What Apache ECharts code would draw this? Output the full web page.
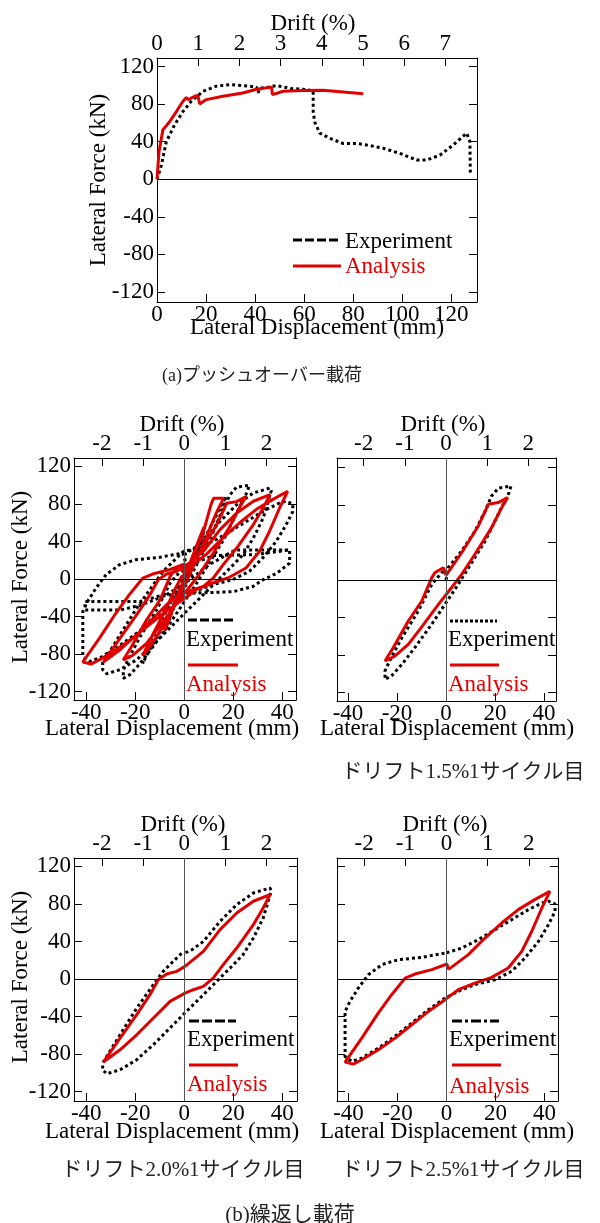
<!DOCTYPE html>
<html>
<head>
<meta charset="utf-8">
<title>Pushover / cyclic loading</title>
<script src="https://cdn.jsdelivr.net/npm/echarts@6/dist/echarts.min.js"></script>
<style>
html, body { margin: 0; padding: 0; background: #fff; }
#charts { width: 600px; height: 1223px; }
</style>
</head>
<body>
<div id="charts"></div>
<script>
// ---- values: [displacement (mm), force (kN)] ----

// (a) pushover
var pushExp = [[0,0],[1.8,15],[3.8,40],[7.2,58],[10.6,72],[14,83],[18.8,93.6],[24.2,99],[29.7,100.7],[37.8,99],[40.5,98],[41.2,92],[42,97],[44.6,97.5],[48.7,99.7],[54.4,96.6],[59.6,95.7],[63.7,94],[63.7,72],[64.3,61],[66.4,49],[70.5,43.6],[75.9,38],[81.4,38],[85.5,36.4],[92.2,33],[99,27.5],[105.9,20.4],[110,20.4],[115.4,25.7],[120.8,36.4],[126.3,49],[127.6,40],[127.8,4]];
var pushAna = [[0,0],[0.8,29],[2.4,52.5],[5.2,61.4],[7.9,72],[10.6,83],[12,87],[12.7,84.7],[15.4,88.2],[16.7,89],[17.4,80],[20.1,84.7],[26.9,88.2],[35,91.8],[40.6,95.7],[46.7,98],[47.1,90],[51.4,93.6],[59.6,94.3],[67.8,94.6],[75.9,92.9],[84.1,91]];

// (b) cyclic, small cycles (only seen in the full history)
var exp05 = [[0,0],[2,10],[5,30],[8,50],[6,38],[3,15],[0,-5],[-3,-22],[-6,-42],[-8,-55],[-6,-40],[-3,-20],[0,-2]];
var ana05 = [[0,0],[2,15],[5,35],[8,55],[6,42],[3,20],[0,0],[-3,-20],[-6,-42],[-8,-55],[-6,-40],[-3,-18],[0,0]];
var exp10 = [[0,5],[4,22],[8,42],[12,62],[15,78],[17,88],[15,70],[11,45],[6,20],[1,-5],[-4,-28],[-9,-52],[-14,-75],[-17,-90],[-15,-75],[-10,-48],[-5,-22],[0,2]];
var ana10 = [[0,3],[4,25],[8,52],[11,80],[12,86],[16,86],[13,70],[9,45],[4,15],[0,-8],[-4,-28],[-9,-52],[-14,-72],[-17,-82],[-13,-60],[-8,-35],[-4,-12],[-1,3],[0,3]];

// drift 1.5% cycle 1
var exp15 = [[0,0],[0.9,13],[6.4,31],[11.8,52],[16,73.6],[18.6,89.6],[21.3,97.8],[26.5,100],[25.7,93],[21.3,70],[16,41.6],[9.2,13],[5,-4.6],[-0.4,-26],[-5.8,-47],[-12.7,-72],[-18,-90],[-22.2,-102],[-24.9,-106],[-24.9,-97],[-22.7,-84.6],[-18,-61.5],[-11.3,-33],[-5.8,-4.6],[-1.8,7.8],[0,10]];
var ana15 = [[0,5],[6.4,29],[13.2,57.6],[17.3,80.7],[21.3,82.5],[25.2,87.8],[22.7,77],[18.6,55.8],[11.8,27.4],[6.4,6],[2.3,-8],[-3.1,-26],[-9.9,-50],[-15.4,-68.6],[-20.8,-81],[-24.9,-86.4],[-21.5,-72],[-15.4,-43.7],[-9.9,-22.4],[-5.8,2.5],[-4.5,7.8],[-1.1,13],[0,5]];

// drift 2.0% cycle 1
var exp20 = [[0.5,28],[3,31],[7.8,40],[14.6,61.5],[21.4,79.3],[28.2,91.7],[35,97],[35.5,94],[32.2,65],[28.2,43.7],[24,26],[18.7,11.7],[13.2,-2.5],[7.8,-16.7],[0.3,-36],[-5.8,-52],[-12.6,-70],[-19.4,-86],[-26.2,-96.7],[-31.7,-101],[-33.3,-96.7],[-33.3,-89.6],[-26.2,-59.4],[-19.4,-31],[-12.6,-6],[-8.6,8.2],[-4.5,18.8],[-0.3,29.5]];
var ana20 = [[0.3,13.5],[7.8,29.5],[14.6,52.6],[21.4,70.4],[28.2,82.9],[35,90],[32.2,75.7],[28.2,58],[21.4,33],[15.9,15.3],[11.8,1],[7.8,-7.8],[3.7,-11.4],[0.3,-15],[-5.8,-23.8],[-12.6,-41.6],[-19.4,-59.4],[-26.2,-75.4],[-33,-88.5],[-26.2,-63],[-19.4,-38],[-14,-16.7],[-10.6,-0.7],[-7.2,5.3],[-3.1,8.2],[0.3,13.5]];

// drift 2.5% cycle 1
var exp25 = [[0,28],[6.2,33],[13,42],[19.8,52.6],[26.6,63.3],[33.4,74],[38.9,81],[41.6,83],[44.3,80],[44.3,72],[41.6,58],[37.5,40],[32,22.4],[26.6,8.2],[19.8,-0.7],[11.6,-6],[6.2,-11.4],[-0.6,-20.3],[-7.4,-32.7],[-14.2,-47],[-21,-61],[-27.8,-73.6],[-34.6,-84.3],[-38.7,-87.8],[-41.4,-82.5],[-41.4,-70],[-41.4,-34.5],[-39.4,-23.8],[-36,-9.6],[-31.9,4.6],[-26.4,15.3],[-19.7,20.6],[-10.1,23.1],[-0.6,27.7]];
var ana25 = [[0.7,10],[8.9,26],[15.7,43.7],[22.5,59.7],[29.3,74],[36,84.6],[42.2,93.5],[38.9,75.7],[34.8,50.9],[30.7,29.5],[25.2,11.7],[18.4,1.8],[11.6,-4.3],[4.8,-11.4],[-0.6,-22],[-7.4,-34.5],[-14.2,-48.7],[-21,-63],[-27.8,-75.4],[-34.6,-86],[-38,-90.7],[-41.4,-88.5],[-34.6,-63],[-27.8,-36],[-22.4,-16.7],[-16.9,1],[-12.9,5.3],[-6,10],[0.2,16],[0.7,10]];

// later, degraded cycle (only seen in the full history)
var expPost = [[1,14],[12,25],[29,26],[43,31],[43,17],[37.7,6],[32,-1],[28,-8],[20,-13.5],[1,-15.3],[-10,-18],[-18,-24],[-30,-24],[-40.5,-24],[-40.5,-33],[-26,-33],[-18,-28],[-8,-18],[0,-5],[10,15],[20.8,31],[43,31]];

// full loading history = all cycles in order
var expAll = [].concat(exp05, exp10, exp15, exp20, exp25, expPost);
var anaAll = [].concat(ana05, ana10, ana15, ana20, ana25);

// tick values
var dispTicksPush = [0, 20, 40, 60, 80, 100, 120];
var dispTicksCyc = [-40, -20, 0, 20, 40];
var driftTicksPush = [0, 1, 2, 3, 4, 5, 6, 7];
var driftTicksCyc = [-2, -1, 0, 1, 2];
var forceTicks = [-120, -80, -40, 0, 40, 80, 120];

// texts
var legendNames = ['Experiment', 'Analysis'];
var captionTexts = ['(a)プッシュオーバー載荷', 'ドリフト1.5%1サイクル目', 'ドリフト2.0%1サイクル目', 'ドリフト2.5%1サイクル目', '(b)繰返し載荷'];

var MM_PER_DRIFT = 16.8;   // mm per 1% drift
var FONT = '"Liberation Serif", "Times New Roman", serif';
var JFONT = '"Liberation Serif", "Noto Sans CJK JP", serif';
var RED = '#e00000';

var Figure = {

	init: function () {
		this.chart = echarts.init(document.getElementById('charts'), null, {renderer: 'canvas'});
		this.render();
	},

	// one panel = grid + 2 x axes (mm / drift) + 2 y axes + 2 series
	addPanel: function (opt, p, i) {
		var black = {show: true, onZero: false, lineStyle: {color: '#000', width: 1}};
		var tick = function (vals) {
			return {show: true, inside: true, length: 8, customValues: vals, lineStyle: {color: '#000', width: 1}};
		};
		var label = function (vals, show, margin) {
			return {show: show, customValues: vals, color: '#000', fontFamily: FONT, fontSize: 23, margin: margin};
		};

		opt.grid.push({left: p.left, top: p.top, width: p.width, height: p.height});

		opt.xAxis.push({
			gridIndex: i, type: 'value', position: 'bottom', min: p.xMin, max: p.xMax,
			axisLine: black, axisTick: tick(p.xTicks), axisLabel: label(p.xTicks, true, 1),
			splitLine: {show: false}
		});
		opt.xAxis.push({
			gridIndex: i, type: 'value', position: 'top',
			min: p.xMin / MM_PER_DRIFT, max: p.xMax / MM_PER_DRIFT,
			axisLine: black, axisTick: tick(p.dTicks), axisLabel: label(p.dTicks, true, 3),
			splitLine: {show: false}
		});
		opt.yAxis.push({
			gridIndex: i, type: 'value', position: 'left', min: p.yMin, max: p.yMax,
			axisLine: black, axisTick: tick(forceTicks), axisLabel: label(forceTicks, p.yLabels, 3),
			splitLine: {show: false}
		});
		opt.yAxis.push({
			gridIndex: i, type: 'value', position: 'right', min: p.yMin, max: p.yMax,
			axisLine: black, axisTick: tick(forceTicks), axisLabel: {show: false},
			splitLine: {show: false}
		});

		var zero = [{yAxis: 0}];
		if (p.vZero) {
			zero.push({xAxis: 0, lineStyle: {color: '#555', width: 1, type: 'solid'}});
		}

		opt.series.push({
			name: legendNames[0], type: 'line', xAxisIndex: 2 * i, yAxisIndex: 2 * i,
			data: p.exp, showSymbol: false, symbol: 'none',
			lineStyle: {color: '#000', width: 3, type: [3, 3]},
			markLine: {
				silent: true, symbol: ['none', 'none'], label: {show: false},
				lineStyle: {color: '#000', width: 1, type: 'solid'},
				data: zero
			}
		});
		opt.series.push({
			name: legendNames[1], type: 'line', xAxisIndex: 2 * i, yAxisIndex: 2 * i,
			data: p.ana, showSymbol: false, symbol: 'none',
			lineStyle: {color: RED, width: 3}
		});

		// axis titles
		opt.graphic.push(this.text('Drift (%)', p.driftTitle[0], p.driftTitle[1], '#000', 23, 'center'));
		opt.graphic.push(this.text('Lateral Displacement (mm)', p.dispTitle[0], p.dispTitle[1], '#000', 23, 'center'));
		if (p.forceTitle) {
			var t = this.text('Lateral Force (kN)', p.forceTitle[0], p.forceTitle[1], '#000', 23, 'center');
			t.rotation = Math.PI / 2;
			opt.graphic.push(t);
		}

		// legend: sample line with the name under / beside it
		var L = p.legend;
		opt.graphic.push({type: 'line', shape: {x1: L.x1, y1: L.y1, x2: L.x2, y2: L.y1},
			style: {stroke: '#000', lineWidth: 3, lineDash: L.dash}});
		opt.graphic.push({type: 'line', shape: {x1: L.x1, y1: L.y2, x2: L.x2 + 2, y2: L.y2},
			style: {stroke: RED, lineWidth: 3}});
		opt.graphic.push(this.text(legendNames[0], L.tx, L.ty1, '#000', 23, 'left'));
		opt.graphic.push(this.text(legendNames[1], L.tx, L.ty2, RED, 23, 'left'));
	},

	text: function (str, x, y, color, size, align, family) {
		return {
			type: 'text', x: x, y: y, silent: true,
			style: {
				text: str, fill: color, font: size + 'px ' + (family || FONT),
				textAlign: align, textVerticalAlign: 'middle'
			}
		};
	},

	render: function () {
		var panels = [
			{left: 157, top: 58, width: 320, height: 244, xMin: 0, xMax: 130.5, yMin: -130.7, yMax: 129,
				xTicks: dispTicksPush, dTicks: driftTicksPush, yLabels: true, vZero: false,
				exp: pushExp, ana: pushAna,
				driftTitle: [313, 24], dispTitle: [317, 328], forceTitle: [99, 180],
				legend: {x1: 293, x2: 339, y1: 240, y2: 266, dash: [9, 3], tx: 345, ty1: 242, ty2: 267}},
			{left: 74, top: 458, width: 222, height: 242, xMin: -45, xMax: 45.6, yMin: -129, yMax: 129,
				xTicks: dispTicksCyc, dTicks: driftTicksCyc, yLabels: true, vZero: true,
				exp: expAll, ana: anaAll,
				driftTitle: [182, 425], dispTitle: [172, 729], forceTitle: [21, 577],
				legend: {x1: 188, x2: 236, y1: 620, y2: 665, dash: [9, 3], tx: 186, ty1: 640, ty2: 685}},
			{left: 337, top: 458, width: 219, height: 243, xMin: -44.5, xMax: 44.9, yMin: -129, yMax: 130,
				xTicks: dispTicksCyc, dTicks: driftTicksCyc, yLabels: false, vZero: true,
				exp: exp15, ana: ana15,
				driftTitle: [443, 425], dispTitle: [447, 729], forceTitle: null,
				legend: {x1: 450, x2: 497, y1: 621, y2: 665, dash: [3, 2], tx: 448, ty1: 640, ty2: 685}},
			{left: 74, top: 858, width: 223, height: 243, xMin: -45, xMax: 46, yMin: -130, yMax: 129,
				xTicks: dispTicksCyc, dTicks: driftTicksCyc, yLabels: true, vZero: true,
				exp: exp20, ana: ana20,
				driftTitle: [183, 825], dispTitle: [172, 1132], forceTitle: [21, 977],
				legend: {x1: 189, x2: 236, y1: 1021, y2: 1065, dash: [10, 3], tx: 187, ty1: 1040, ty2: 1085}},
			{left: 337, top: 858, width: 221, height: 243, xMin: -44.7, xMax: 45.5, yMin: -130, yMax: 129,
				xTicks: dispTicksCyc, dTicks: driftTicksCyc, yLabels: false, vZero: true,
				exp: exp25, ana: ana25,
				driftTitle: [445, 825], dispTitle: [447, 1132], forceTitle: null,
				legend: {x1: 452, x2: 499, y1: 1021, y2: 1065, dash: [10, 3, 3, 3], tx: 449, ty1: 1040, ty2: 1087}}
		];

		var option = {
			animation: false,
			backgroundColor: '#fff',
			textStyle: {fontFamily: FONT},
			grid: [], xAxis: [], yAxis: [], series: [], graphic: []
		};

		for (var i = 0; i < panels.length; i++) {
			this.addPanel(option, panels[i], i);
		}

		// captions
		var capPos = [[262, 376, 18], [463, 772, 21], [183, 1170, 21], [463, 1170, 21], [290, 1215, 21]];
		for (var c = 0; c < captionTexts.length; c++) {
			option.graphic.push(this.text(captionTexts[c], capPos[c][0], capPos[c][1], '#222', capPos[c][2], 'center', JFONT));
		}

		this.chart.setOption(option);
	}
};

Figure.init();
</script>
</body>
</html>
